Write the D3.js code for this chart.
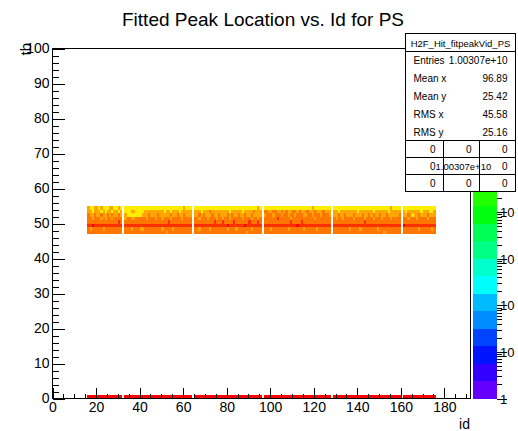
<!DOCTYPE html>
<html>
<head>
<meta charset="utf-8">
<script src="https://cdn.jsdelivr.net/npm/d3@7"></script>
<style>
body { margin: 0; background: #fff; }
text { font-family: 'Liberation Sans', Arial, sans-serif; fill: #000; }
.tick line { shape-rendering: crispEdges; }
</style>
</head>
<body>
<script>
// axis ranges and ticks
const id_range = [0, 192];
const tb_range = [0, 100];
const x_major = [0, 20, 40, 60, 80, 100, 120, 140, 160, 180];
const y_major = [0, 10, 20, 30, 40, 50, 60, 70, 80, 90, 100];
const z_range = [1, 3.3e7];
const z_decades = [0, 1, 2, 3, 4, 5, 6, 7];

// cell contents: one string per tb row, one char per id bin starting at id 16
// (spaces only group 10 bins, '.' = empty bin)
const first_id = 16;
const code_counts = { y: 8e5, a: 1.8e6, o: 4e6, r: 9e6, R: 2.6e7 };
const row_tb = [54, 53, 52, 51, 50, 49, 48, 47, 0];
const rows = [
	'ayyaayayyy aayyay.yyy yyyyyyyyyy yyyyyyyyyy yyyyayyy.y yyyyyyyyyy yyyyyyyyyy yyyyyyyyay .yyyyyyyyy yyyyyyyyyy yyyayyyyyy yy.yyyyyyy yyyyyyyyyy yyyyyyyyya yyyy.yyyyy yyyyyyyyyy',
	'aayaaayaya ayaaya.yyy aayyyyaaaa aaaaayaaya aayaaaaa.a aayaaaoaaa aaaaayaaaa ayaaaaoaaa .ooaaooaao aoaaooaoaa ooaaoaaaoa aa.aayaaaa aaaayaaaaa ayaaaaaaya aaaa.ayaaa aaayaaayya',
	'oaaoaaoaao aoaaoa.ayy yyyyyaaaoa aaoaaaaaoa aoaaoaaa.a aoaoaaaoaa oaaaoaoaao aaoaaoaaaa .aoooaoooa ooaooaoooa aooaoooaoo oa.aaoaaoa aaoaaaoaao aoaaoaaoaa aaao.aaoay aaoaaaoaaa',
	'ooaoooaoao oaoooo.aoo aaoooooaoo oaooaoooao oooaoooo.o oaoooaoooa ooaooaoooo oaoooaooao .ooooooroo oooaoooooo ooooaooooo oo.oaooaoo ooaooooaoo oaoooaoooa oooo.ooaoo oaooooaooo',
	'oooooooooo ooooro.ooo oooooooooo oooooooroo oooooooo.o ooooooooro oorooooroo ooooroooro .ooooooooo ooorooooro oooooooooo oo.ooooooo oooooooroo oooooooooo oooo.ooooo oooooooooo',
	'rrRrrrrrrr rrrrrr.rrr rrrrrrrrrr rrrrrrrrrr rrrrrrrr.r rrrrrrrrrr rrrrRrrrrr rrRrrrrrrr .rrrrrrrrr rrrrrrRrrr rrrrrrrrrr rr.rrrrrrr rrrrrrrrrr rrrrrrrrrr rrrr.Rrrrr rrrrrrrrrr',
	'oaoooooaoo oooooo.ooo aoooaaoooo ooooaooooa oooooooo.o oaooooaooo ooooaoooao oooooaoooo .oooaooooo ooaooooooa oooooaoooo oo.ooooooo aooooaoooo oooaoooooo oooo.ooooo ooaoooooao',
	'oooooooooo oooooo.ooo oooooooooo ooooooaooo oooooooo.o oooooooooo oooooooooo oooaoooooo .ooooooooo oooooooooo oooooooooo oo.ooooooo oooooooooo ooooooaooo oooo.ooooo oooooooooo',
	'RRRRRRRRRR RRRRRR.RRR RRRRRRRRRR RRRRRRRRRR RRRRRRRR.R RRRRRRRRRR RRRRRRRRRR RRRRRRRRRR .RRRRRRRRR RRRRRRRRRR RRRRRRRRRR RR.RRRRRRR RRRRRRRRRR RRRRRRRRRR RRRR.RRRRR RRRRRRRRRR'
];

// stats box
const stats_name = 'H2F_Hit_fitpeakVid_PS';
const stats_labels = ['Entries', 'Mean x', 'Mean y', 'RMS x', 'RMS y'];
const stats_values = ['1.00307e+10', '96.89', '25.42', '45.58', '25.16'];
const under_over = [['0', '0', '0'], ['0', '1.00307e+10', '0'], ['0', '0', '0']];

const W = 518, H = 431;
const svg = d3.select('body').append('svg').attr('width', W).attr('height', H);

const x = d3.scaleLinear().domain(id_range).range([52.5, 470.5]);
const y = d3.scaleLinear().domain(tb_range).range([398.5, 48.5]);
const z = d3.scaleLog().domain(z_range).range([398.5, 48.5]);

// ROOT pretty palette (50 hues violet -> red), 20 contour levels
const n_cont = 20;
function level_of(v)
{
	const t = (Math.log10(v) - Math.log10(z_range[0])) / (Math.log10(z_range[1]) - Math.log10(z_range[0]));
	return Math.max(0, Math.min(n_cont - 1, Math.floor(t * n_cont)));
}
function level_color(k)
{
	const idx = Math.floor((k + 0.99) * 50 / n_cont);
	return d3.hsl(280 - (idx + 1) * 5.6, 1, 0.5).formatHex();
}

const cells = [];
rows.forEach(function(s, r)
{
	s.replace(/ /g, '').split('').forEach(function(c, i)
	{
		if (c !== '.') cells.push({ id: first_id + i, tb: row_tb[r], v: code_counts[c] });
	});
});

svg.append('g')
	.selectAll('rect')
	.data(cells)
	.enter()
	.append('rect')
		.attr('x', function(d) { return x(d.id); })
		.attr('y', function(d) { return y(d.tb + 1); })
		.attr('width', function(d) { return x(d.id + 1) - x(d.id); })
		.attr('height', function(d) { return y(d.tb) - y(d.tb + 1); })
		.attr('fill', function(d) { return level_color(level_of(d.v)); })
		.attr('shape-rendering', 'crispEdges');

// frame
svg.append('rect')
	.attr('x', x(id_range[0])).attr('y', y(tb_range[1]))
	.attr('width', x(id_range[1]) - x(id_range[0]))
	.attr('height', y(tb_range[0]) - y(tb_range[1]))
	.attr('fill', 'none').attr('stroke', '#000');

// x axis
const x_minor = d3.range(0, 192, 5).filter(function(v) { return v % 20 !== 0; });
svg.append('g')
	.attr('transform', 'translate(0,' + y(0) + ')')
	.call(d3.axisBottom(x).tickValues(x_minor).tickSizeInner(-5).tickSizeOuter(0).tickFormat(''))
	.call(function(g) { g.select('.domain').remove(); });
svg.append('g')
	.attr('transform', 'translate(0,' + y(0) + ')')
	.call(d3.axisBottom(x).tickValues(x_major).tickSizeInner(-11).tickSizeOuter(0).tickPadding(4))
	.call(function(g)
	{
		g.select('.domain').remove();
		g.selectAll('text').attr('font-size', 14).attr('font-family', 'Liberation Sans');
	});

// y axis
const y_minor = d3.range(0, 101, 2).filter(function(v) { return v % 10 !== 0; });
svg.append('g')
	.attr('transform', 'translate(' + x(0) + ',0)')
	.call(d3.axisLeft(y).tickValues(y_minor).tickSizeInner(-6).tickSizeOuter(0).tickFormat(''))
	.call(function(g) { g.select('.domain').remove(); });
svg.append('g')
	.attr('transform', 'translate(' + x(0) + ',0)')
	.call(d3.axisLeft(y).tickValues(y_major).tickSizeInner(-12).tickSizeOuter(0).tickPadding(3))
	.call(function(g)
	{
		g.select('.domain').remove();
		g.selectAll('text').attr('font-size', 14).attr('font-family', 'Liberation Sans');
	});

// axis titles
svg.append('text')
	.attr('x', 470).attr('y', 429)
	.attr('text-anchor', 'end').attr('font-size', 14)
	.text('id');
svg.append('text')
	.attr('transform', 'translate(31,43) rotate(-90)')
	.attr('text-anchor', 'end').attr('font-size', 15)
	.text('tb');

// title
svg.append('text')
	.attr('x', 263).attr('y', 26)
	.attr('text-anchor', 'middle').attr('font-size', 19)
	.text('Fitted Peak Location vs. Id for PS');

// colour bar
const bar_x0 = 473, bar_x1 = 496.5;
const bar_levels = d3.range(n_cont);
const lz0 = Math.log10(z_range[0]), lz1 = Math.log10(z_range[1]);
svg.append('g')
	.selectAll('rect')
	.data(bar_levels)
	.enter()
	.append('rect')
		.attr('x', bar_x0)
		.attr('width', bar_x1 - bar_x0)
		.attr('y', function(k) { return z(Math.pow(10, lz0 + (k + 1) * (lz1 - lz0) / n_cont)); })
		.attr('height', function(k) { return z(Math.pow(10, lz0 + k * (lz1 - lz0) / n_cont)) - z(Math.pow(10, lz0 + (k + 1) * (lz1 - lz0) / n_cont)); })
		.attr('fill', function(k) { return level_color(k); })
		.attr('shape-rendering', 'crispEdges');

const z_minor = [];
z_decades.forEach(function(e)
{
	for (let m = 2; m <= 9; m++)
	{
		const v = m * Math.pow(10, e);
		if (v <= z_range[1]) z_minor.push(v);
	}
});
svg.append('g')
	.attr('transform', 'translate(' + bar_x1 + ',0)')
	.call(d3.axisLeft(z).tickValues(z_minor).tickSizeInner(-5).tickSizeOuter(0).tickFormat(''))
	.call(function(g) { g.select('.domain').remove(); });
svg.append('g')
	.attr('transform', 'translate(' + bar_x1 + ',0)')
	.call(d3.axisLeft(z).tickValues(z_decades.map(function(e) { return Math.pow(10, e); })).tickSizeInner(-10).tickSizeOuter(0).tickFormat(''))
	.call(function(g) { g.select('.domain').remove(); });

svg.append('g')
	.selectAll('text')
	.data(z_decades)
	.enter()
	.append('text')
		.attr('x', 500)
		.attr('y', function(e) { return z(Math.pow(10, e)) + 5; })
		.attr('font-size', 13)
		.text(function(e) { return e === 0 ? '1' : '10'; });

// stats box
const bx0 = 405.5, bx1 = 515.5, by0 = 33.5, by1 = 51.5, by2 = 140.5, by_end = 191.5;
const col_x = [bx0, 443.5, 479.5, bx1];
const sb = svg.append('g');
sb.append('rect')
	.attr('x', bx0).attr('y', by0).attr('width', bx1 - bx0).attr('height', by_end - by0)
	.attr('fill', '#fff').attr('stroke', '#000');
sb.append('text')
	.attr('x', (bx0 + bx1) / 2).attr('y', by1 - 5)
	.attr('text-anchor', 'middle').attr('font-size', 9.5)
	.text(stats_name);
[by1, by2].forEach(function(v)
{
	sb.append('line').attr('x1', bx0).attr('x2', bx1).attr('y1', v).attr('y2', v).attr('stroke', '#000');
});
const row_h = (by2 - by1) / stats_labels.length;
stats_labels.forEach(function(l, i)
{
	const yy = by1 + row_h * (i + 0.5) + 4;
	sb.append('text').attr('x', bx0 + 8).attr('y', yy).attr('font-size', 10).text(l);
	sb.append('text').attr('x', bx1 - 8).attr('y', yy).attr('text-anchor', 'end').attr('font-size', 10).text(stats_values[i]);
});
const uo_h = (by_end - by2) / 3;
under_over.forEach(function(r, i)
{
	const top = by2 + uo_h * i;
	if (i > 0) sb.append('line').attr('x1', bx0).attr('x2', bx1).attr('y1', top).attr('y2', top).attr('stroke', '#000');
	[1, 2].forEach(function(c)
	{
		sb.append('line').attr('x1', col_x[c]).attr('x2', col_x[c]).attr('y1', top).attr('y2', top + uo_h).attr('stroke', '#000');
	});
	r.forEach(function(t, c)
	{
		const long = t.length > 3;
		sb.append('text')
			.attr('x', long ? col_x[c] - 8 : col_x[c + 1] - 8)
			.attr('y', top + uo_h / 2 + 4)
			.attr('text-anchor', long ? 'start' : 'end')
			.attr('font-size', long ? 9.5 : 10)
			.text(t);
	});
});
</script>
</body>
</html>
